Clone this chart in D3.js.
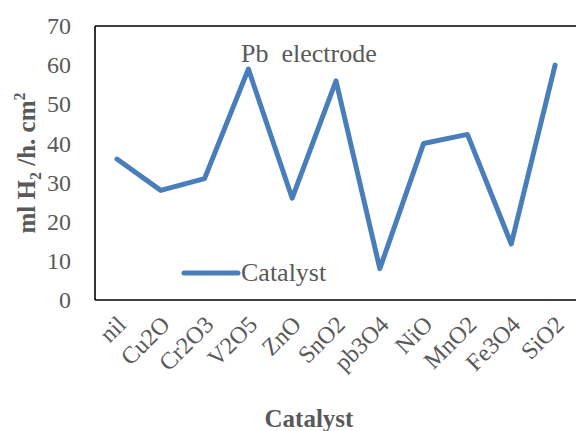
<!DOCTYPE html>
<html>
<head>
<meta charset="utf-8">
<script src="https://cdn.jsdelivr.net/npm/d3@7"></script>
<style>
  html, body { margin: 0; padding: 0; background: #fff; }
  svg { display: block; }
  text { font-family: "Liberation Serif", "Times New Roman", serif; fill: #595959; }
</style>
</head>
<body>
<svg id="chart" width="576" height="431"></svg>
<script>
// Hydrogen evolution rate on a Pb electrode for each catalyst
const catalysts = ["nil", "Cu2O", "Cr2O3", "V2O5", "ZnO", "SnO2", "pb3O4", "NiO", "MnO2", "Fe3O4", "SiO2"];
const rates = [36, 28, 31, 59, 26, 56, 8, 40, 42.3, 14.3, 60];
const yTicks = [0, 10, 20, 30, 40, 50, 60, 70];

const svg = d3.select("#chart");
const m = { left: 95, top: 26 };
const W = 576;
const plotBottom = 300;

const x = d3.scalePoint().domain(catalysts).range([m.left, m.left + 482]).padding(0.5);
const y = d3.scaleLinear().domain([0, 70]).range([plotBottom, m.top]);

// plot frame (left, top, bottom)
const frame = svg.append("g").attr("fill", "none").attr("stroke", "#000").attr("stroke-width", 1.6);
frame.append("line").attr("x1", m.left).attr("x2", m.left).attr("y1", m.top).attr("y2", plotBottom);
frame.append("line").attr("x1", m.left).attr("x2", W).attr("y1", m.top).attr("y2", m.top);
frame.append("line").attr("x1", m.left).attr("x2", W).attr("y1", plotBottom).attr("y2", plotBottom);

// y axis
const yAxis = svg.append("g")
  .attr("transform", `translate(${m.left},0)`)
  .call(d3.axisLeft(y).tickValues(yTicks).tickSize(0).tickPadding(24));
yAxis.select(".domain").remove();
yAxis.selectAll("text")
  .style("font-family", '"Liberation Serif", serif')
  .style("font-size", "24px")
  .attr("fill", "#595959");

// x axis labels, rotated 45 degrees
const xAxis = svg.append("g")
  .attr("transform", `translate(0,${plotBottom})`)
  .call(d3.axisBottom(x).tickSize(0));
xAxis.select(".domain").remove();
xAxis.selectAll("text")
  .style("font-family", '"Liberation Serif", serif')
  .style("font-size", "24px")
  .attr("fill", "#595959")
  .attr("text-anchor", "end")
  .attr("x", 0).attr("y", 0)
  .attr("dy", "0.35em")
  .attr("transform", "translate(4,20) rotate(-45)");

// data line
const line = d3.line().x((d, i) => x(catalysts[i])).y(d => y(d));
svg.append("path")
  .datum(rates)
  .attr("d", line)
  .attr("fill", "none")
  .attr("stroke", "#4a7ebb")
  .attr("stroke-width", 5)
  .attr("stroke-linejoin", "round")
  .attr("stroke-linecap", "round");

// annotation
svg.append("text")
  .attr("x", 241).attr("y", 62)
  .style("font-size", "26px")
  .text("Pb\u00a0 electrode");

// legend
svg.append("line")
  .attr("x1", 184).attr("x2", 238).attr("y1", 273).attr("y2", 273)
  .attr("stroke", "#4a7ebb").attr("stroke-width", 5).attr("stroke-linecap", "round");
svg.append("text")
  .attr("x", 241).attr("y", 281)
  .style("font-size", "26px")
  .text("Catalyst");

// axis titles
svg.append("text")
  .attr("x", 309).attr("y", 427)
  .attr("text-anchor", "middle")
  .style("font-size", "25px").style("font-weight", "bold")
  .text("Catalyst");

const yt = svg.append("text")
  .attr("transform", "translate(35,163) rotate(-90)")
  .attr("text-anchor", "middle")
  .style("font-size", "25px").style("font-weight", "bold");
yt.append("tspan").text("ml H");
yt.append("tspan").attr("dy", 6).style("font-size", "16px").text("2");
yt.append("tspan").attr("dy", -6).text(" /h. cm");
yt.append("tspan").attr("dy", -10).style("font-size", "16px").text("2");
</script>
</body>
</html>
